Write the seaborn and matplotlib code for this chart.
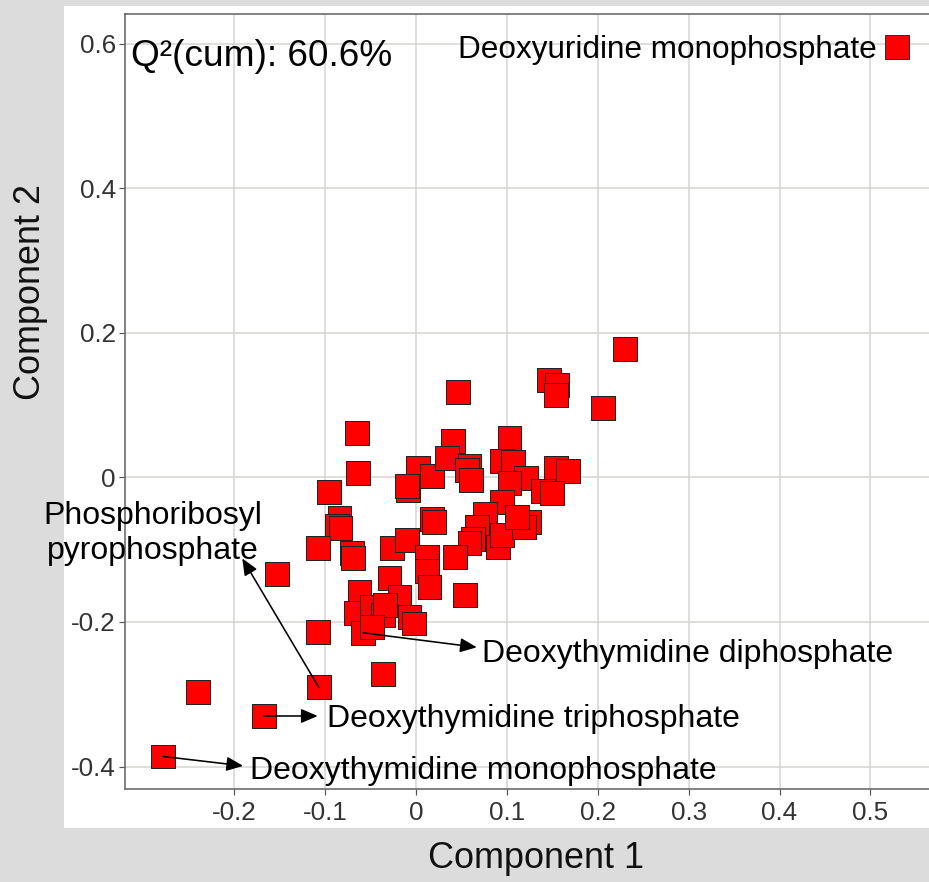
import matplotlib
matplotlib.use("Agg")
import matplotlib.pyplot as plt
import seaborn as sns
import pandas as pd
from matplotlib.lines import Line2D
from matplotlib.patches import Rectangle

# scores
comp1 = [0.230, 0.146, 0.155, 0.154, 0.206, 0.046, -0.065, -0.064, -0.096, -0.084,
         -0.087, -0.083, -0.108, -0.070, -0.069, -0.026, -0.010, 0.002, 0.018, -0.009,
         -0.010, 0.018, 0.020, 0.012, 0.012, 0.015, -0.029, 0.041, 0.034, 0.059,
         0.056, 0.061, 0.103, 0.095, 0.107, 0.121, 0.103, 0.154, 0.167, 0.140,
         0.150, 0.095, 0.076, 0.067, 0.063, 0.059, 0.090, 0.095, 0.124, 0.119,
         0.111, 0.043, 0.054, -0.062, -0.066, -0.048, -0.036, -0.018, -0.034, -0.007,
         -0.002, -0.058, -0.048, -0.108, -0.036, -0.107, -0.153, -0.167, -0.240, -0.278]
comp2 = [0.178, 0.135, 0.128, 0.114, 0.096, 0.118, 0.062, 0.006, -0.020, -0.056,
         -0.067, -0.070, -0.098, -0.105, -0.112, -0.098, -0.087, 0.013, 0.002, -0.018,
         -0.012, -0.058, -0.062, -0.110, -0.130, -0.152, -0.139, 0.050, 0.027, 0.016,
         0.010, -0.004, 0.054, 0.023, 0.021, -0.001, -0.008, 0.013, 0.009, -0.019,
         -0.022, -0.034, -0.051, -0.069, -0.085, -0.091, -0.096, -0.080, -0.062, -0.069,
         -0.055, -0.110, -0.163, -0.158, -0.188, -0.179, -0.190, -0.166, -0.177, -0.193,
         -0.202, -0.215, -0.207, -0.214, -0.272, -0.290, -0.134, -0.330, -0.297, -0.386]
group_name = "Deoxyuridine monophosphate"

# labelled metabolites: index of the point, arrow tip, text anchor
label_names = ["Deoxythymidine monophosphate", "Deoxythymidine triphosphate",
               "Deoxythymidine diphosphate", "Phosphoribosyl\npyrophosphate"]
label_index = [69, 67, 61, 65]
arrow_tips = [(-0.190, -0.399), (-0.108, -0.330), (0.067, -0.235), (-0.191, -0.112)]
text_pos = [(-0.183, -0.406), (-0.098, -0.334), (0.073, -0.244), (-0.289, -0.077)]
text_ha = ["left", "left", "left", "center"]

q2_text = "Q²(cum): 60.6%"

df = pd.DataFrame({"Component 1": comp1, "Component 2": comp2, "group": group_name})

sns.set_theme(style="white")
plt.rcParams["font.family"] = ["Liberation Sans", "DejaVu Sans"]

W, H = 929, 882
fig = plt.figure(figsize=(W / 72, H / 72), dpi=72, facecolor="#dcdcdc")
# white panel behind axes and tick labels
fig.patches.append(Rectangle((64 / W, 1 - 828 / H), 1 - 64 / W, (828 - 6) / H,
                             transform=fig.transFigure, facecolor="white",
                             edgecolor="none", zorder=-10))
ax = fig.add_axes([125 / W, 1 - 789 / H, 1 - 125 / W, (789 - 14) / H])
ax.set_facecolor("white")

sns.scatterplot(data=df, x="Component 1", y="Component 2", hue="group",
                palette=["#ff0000"], marker="s", s=570, edgecolor="#222222",
                linewidth=1.0, legend=False, ax=ax, zorder=3)

ax.set_xlim(-0.320, 0.5644)
ax.set_ylim(-0.431, 0.641)
ax.set_xticks([-0.2, -0.1, 0, 0.1, 0.2, 0.3, 0.4, 0.5])
ax.set_xticklabels(["-0.2", "-0.1", "0", "0.1", "0.2", "0.3", "0.4", "0.5"])
ax.set_yticks([-0.4, -0.2, 0, 0.2, 0.4, 0.6])
ax.set_yticklabels(["-0.4", "-0.2", "0", "0.2", "0.4", "0.6"])
ax.grid(True, color="#d4d4ce", linewidth=1.5)
ax.set_axisbelow(True)
ax.tick_params(axis="both", labelsize=26, colors="#555555", labelcolor="#333333",
               length=6, width=1.2, pad=3, direction="out", bottom=True, left=True)
ax.tick_params(axis="x", pad=6)
for side in ["left", "top", "bottom"]:
    ax.spines[side].set_color("#666666")
    ax.spines[side].set_linewidth(1.6)
ax.spines["right"].set_visible(False)
ax.set_xlabel("")
ax.set_ylabel("")

# arrows from the points to their labels
for name, idx, tip, pos, ha in zip(label_names, label_index, arrow_tips, text_pos, text_ha):
    ax.annotate("", xy=tip, xytext=(comp1[idx], comp2[idx]),
                arrowprops=dict(arrowstyle="-|>,head_length=0.7,head_width=0.3",
                                color="black", lw=1.6, shrinkA=0, shrinkB=0,
                                mutation_scale=20),
                zorder=5, annotation_clip=False)
    ax.text(pos[0], pos[1], name, ha=ha, va="center", fontsize=32,
            color="black", linespacing=1.22, zorder=6, clip_on=False)

# legend: text first, square after
handle = Line2D([], [], marker="s", linestyle="none", markersize=24,
                markerfacecolor="#ff0000", markeredgecolor="#222222", markeredgewidth=0.9)
fig.legend([handle], [group_name], loc="upper right", bbox_to_anchor=(913 / W, 1 - 35 / H),
           frameon=False, markerfirst=False, fontsize=31.5, handlelength=1.0,
           handletextpad=0.15, borderpad=0, borderaxespad=0, labelcolor="black")

fig.text(131 / W, 1 - 56 / H, q2_text, fontsize=37, ha="left", va="center", color="black")
fig.text(536 / W, 1 - 858 / H, "Component 1", fontsize=36, ha="center", va="center", color="#111111")
fig.text(31 / W, 1 - 292 / H, "Component 2", fontsize=36, ha="center", va="center",
         rotation=90, color="#111111")

fig.savefig("out.png", dpi=72, facecolor=fig.get_facecolor())
